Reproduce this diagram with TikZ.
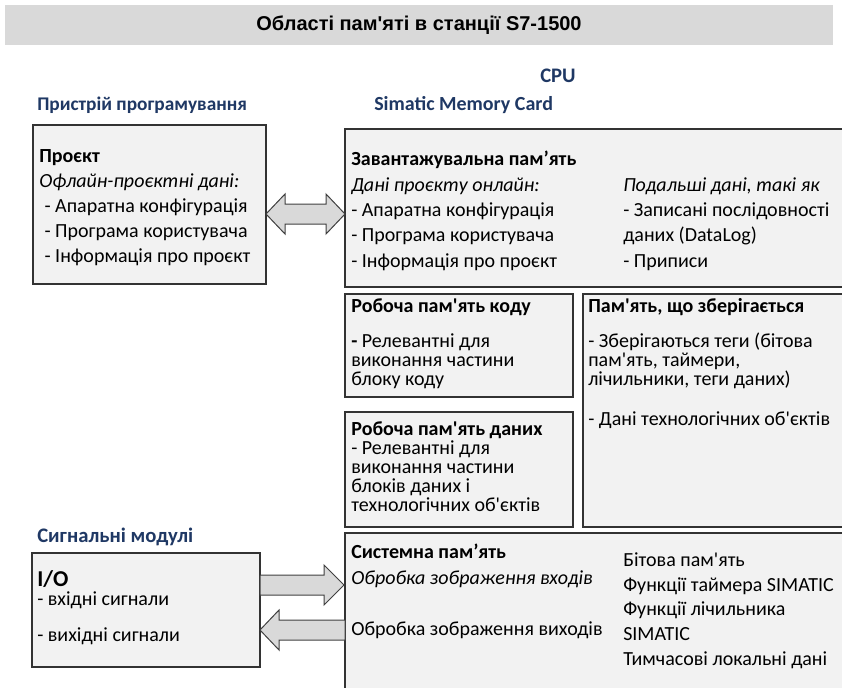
\documentclass[tikz,border=0pt]{standalone}
\usepackage{fontspec}
\setmainfont{Carlito}[Ligatures=TeXOff]
\newfontfamily\titlefont{Liberation Sans}[Ligatures=TeXOff]
\usetikzlibrary{calc}
\definecolor{headblue}{HTML}{1F3864}
\definecolor{boxgray}{HTML}{F2F2F2}
\definecolor{bargray}{HTML}{D9D9D9}

\begin{document}
\begin{tikzpicture}[x=0.75pt, y=-0.75pt, line join=miter, font=\fontsize{15}{18}\selectfont,
	membox/.style={draw=black!80, line width=1.1pt, fill=boxgray, anchor=north west, inner sep=0pt, outer sep=0pt},
	headtxt/.style={anchor=base west, inner sep=0pt, text=headblue, font=\fontsize{14.5}{17}\selectfont\bfseries},
	bodytxt/.style={anchor=base west, inner sep=0pt, align=left},
	blockarrow/.style={draw=black!75, line width=0.75pt, fill=bargray}]
	
	\useasboundingbox (0,0) rectangle (842,688);
	
	%========================
	% title bar
	%========================
	\node[fill=bargray, minimum width=621pt, minimum height=30pt, inner sep=0pt,
	font=\titlefont\bfseries\fontsize{15}{18}\selectfont] (title) at (419,25) {Області пам'яті в станції S7-1500};
	
	% headings
	\node[headtxt, anchor=base, font=\fontsize{15.5}{17}\selectfont\bfseries] (cpu) at (558,83) {CPU};
	\node[headtxt] (pgdev) at (37,111) {Пристрій програмування};
	\node[headtxt, font=\fontsize{15}{17}\selectfont\bfseries] (smc) at (374,111) {Simatic Memory Card};
	\node[headtxt, font=\fontsize{15.5}{17}\selectfont\bfseries] (sigmod) at (37,542) {Сигнальні модулі};
	
	%========================
	% memory boxes
	%========================
	\node[membox, minimum width=174.75pt, minimum height=119.25pt] (proj) at (33,125) {};
	\node[membox, minimum width=378.75pt, minimum height=118.5pt] (load) at (345,129) {};
	\node[membox, minimum width=171pt, minimum height=77.25pt] (code) at (345,294) {};
	\node[membox, minimum width=202.5pt, minimum height=174.75pt] (retain) at (583,294) {};
	\node[membox, minimum width=171pt, minimum height=86.25pt] (data) at (345,412) {};
	\node[membox, minimum width=378.75pt, minimum height=127.5pt] (sys) at (345,533) {};
	\node[membox, minimum width=171pt, minimum height=85.5pt] (io) at (32,553) {};
	
	% texts in the boxes (placed at the baseline of their last line)
	\node[bodytxt, font=\fontsize{15}{18.75}\selectfont] (projtxt) at (39,262)
	{\textbf{Проєкт}\\ \textit{Офлайн-проєктні дані:}\\ \hspace{4pt}- Апаратна конфігурація\\
		\hspace{4pt}- Програма користувача\\ \hspace{4pt}- Інформація про проєкт};
	\node[bodytxt, font=\fontsize{15}{19}\selectfont] (loadtxt) at (351,267)
	{\textbf{Завантажувальна пам’ять}\\ \textit{Дані проєкту онлайн:}\\ - Апаратна конфігурація\\
		- Програма користувача\\ - Інформація про проєкт};
	\node[bodytxt, font=\fontsize{15}{19}\selectfont] (loadmore) at (623,267)
	{\textit{Подальші дані, такі як}\\ - Записані послідовності\\ даних (DataLog)\\ - Приписи};
	\node[bodytxt, font=\fontsize{15}{14.25}\selectfont] (codetxt) at (351,385)
	{\textbf{Робоча пам'ять коду}\\[12pt] \textbf{-} Релевантні для\\ виконання частини\\ блоку коду};
	\node[bodytxt, font=\fontsize{15}{14.25}\selectfont] (retaintxt) at (588,425)
	{\textbf{Пам'ять, що зберігається}\\[12pt] - Зберігаються теги (бітова\\ пам'ять, таймери,\\
		лічильники, теги даних)\\[15.75pt] - Дані технологічних об'єктів};
	\node[bodytxt, font=\fontsize{15}{14.25}\selectfont] (datatxt) at (351,511)
	{\textbf{Робоча пам'ять даних}\\ - Релевантні для\\ виконання частини\\ блоків даних і\\ технологічних об'єктів};
	\node[bodytxt, font=\fontsize{15}{19.5}\selectfont] (systxt) at (351,584)
	{\textbf{Системна пам’ять}\\ \textit{Обробка зображення входів}};
	\node[bodytxt] (sysout) at (351,635) {Обробка зображення виходів};
	\node[bodytxt, font=\fontsize{15}{18.5}\selectfont] (sysmore) at (623,665)
	{Бітова пам'ять\\ Функції таймера SIMATIC\\ Функції лічильника\\ SIMATIC\\ Тимчасові локальні дані};
	\node[bodytxt, font=\fontsize{17}{19}\selectfont\bfseries] (iohead) at (37,586) {I/O};
	\node[bodytxt] (ioin) at (37,605) {- вхідні сигнали};
	\node[bodytxt] (ioout) at (37,641) {- вихідні сигнали};
	
	%========================
	% block arrows
	%========================
	\path (proj.east) ++(0,9.5) coordinate (dbl-l);
	\path (load.west |- dbl-l) coordinate (dbl-r);
	\draw[blockarrow] (dbl-l) -- ++(19,-20) -- ++(0,10) -- ($(dbl-r)+(-19,-10)$) -- ++(0,-10) -- (dbl-r)
	-- ++(-19,20) -- ++(0,-10) -- ($(dbl-l)+(19,10)$) -- ++(0,10) -- cycle;
	
	\path (io.east) ++(0,-25) coordinate (in-l);
	\path (sys.west |- in-l) coordinate (in-r);
	\draw[blockarrow] ($(in-l)+(0,-10)$) -- ($(in-r)+(-21,-10)$) -- ++(0,-10) -- ($(in-r)+(-1,0)$)
	-- ++(-20,20) -- ++(0,-10) -- ($(in-l)+(0,10)$) -- cycle;
	
	\path (io.east) ++(0,20) coordinate (out-l);
	\path (sys.west |- out-l) coordinate (out-r);
	\draw[blockarrow] (out-l) -- ++(19,-20) -- ++(0,10) -- ($(out-r)+(0,-10)$) -- ++(0,20)
	-- ($(out-l)+(19,10)$) -- ++(0,10) -- cycle;
	
\end{tikzpicture}
\end{document}
